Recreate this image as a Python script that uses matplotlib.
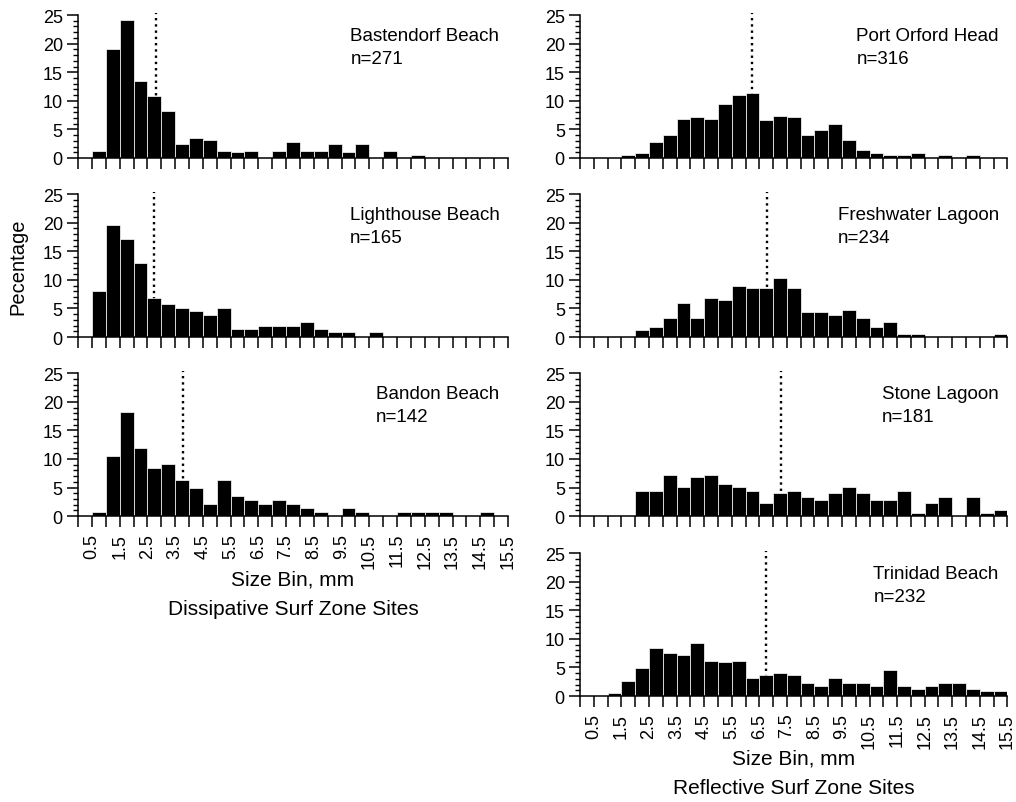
import numpy as np
import matplotlib.pyplot as plt

# Bin edges every 0.5 mm, 31 bins from 0 to 15.5 mm
BIN_WIDTH = 0.5
BIN_LABELS = ["0.5", "1.5", "2.5", "3.5", "4.5", "5.5", "6.5", "7.5",
              "8.5", "9.5", "10.5", "11.5", "12.5", "13.5", "14.5", "15.5"]

# Dissipative sites (left column)
bastendorf = [0, 1.3, 19.0, 24.1, 13.5, 10.9, 8.3, 2.4, 3.5, 3.1, 1.3, 1.0, 1.3, 0, 1.3, 2.8,
              1.3, 1.3, 2.4, 1.0, 2.4, 0, 1.3, 0, 0.6, 0, 0, 0, 0, 0, 0]
lighthouse = [0, 8.1, 19.6, 17.2, 13.0, 6.9, 5.7, 5.0, 4.5, 3.8, 5.0, 1.4, 1.4, 2.0, 2.0, 2.0,
              2.6, 1.4, 0.8, 0.8, 0, 0.8, 0, 0, 0, 0, 0, 0, 0, 0, 0]
bandon = [0, 0.7, 10.6, 18.3, 12.0, 8.5, 9.2, 6.3, 4.9, 2.1, 6.3, 3.5, 2.8, 2.1, 2.8, 2.1,
          1.4, 0.7, 0, 1.4, 0.7, 0, 0, 0.7, 0.7, 0.7, 0.7, 0, 0, 0.7, 0]

# Reflective sites (right column)
port_orford = [0, 0, 0, 0.6, 0.9, 2.8, 4.1, 6.9, 7.2, 6.9, 9.5, 11.0, 11.4, 6.6, 7.4, 7.2,
               4.1, 4.9, 5.9, 3.2, 1.4, 0.9, 0.6, 0.6, 0.9, 0, 0.6, 0, 0.6, 0, 0]
freshwater = [0, 0, 0, 0, 1.3, 1.7, 3.4, 6.0, 3.4, 6.8, 6.4, 9.0, 8.5, 8.5, 10.3, 8.5,
              4.3, 4.3, 3.8, 4.7, 3.4, 1.7, 2.6, 0.5, 0.5, 0, 0, 0, 0, 0, 0.5]
stone = [0, 0, 0, 0, 4.4, 4.4, 7.2, 5.1, 6.8, 7.2, 5.6, 5.1, 4.4, 2.3, 4.0, 4.4,
         3.4, 2.8, 4.0, 5.1, 4.0, 2.8, 2.8, 4.4, 0.6, 2.3, 3.4, 0, 3.4, 0.6, 1.1]
trinidad = [0, 0, 0.5, 2.7, 4.9, 8.4, 7.5, 7.1, 9.3, 6.2, 5.9, 6.2, 3.1, 3.6, 4.1, 3.6,
            2.3, 1.8, 3.1, 2.3, 2.3, 1.8, 4.5, 1.8, 1.3, 1.8, 2.3, 2.3, 1.3, 0.9, 0.9]

left_sites = ["Bastendorf Beach", "Lighthouse Beach", "Bandon Beach"]
left_n = [271, 165, 142]
left_median = [2.8, 2.75, 3.8]
left_pct = [bastendorf, lighthouse, bandon]

right_sites = ["Port Orford Head", "Freshwater Lagoon", "Stone Lagoon", "Trinidad Beach"]
right_n = [316, 234, 181, 232]
right_median = [6.22, 6.77, 7.27, 6.73]
right_pct = [port_orford, freshwater, stone, trinidad]

plt.rcParams['font.family'] = ['Liberation Sans', 'DejaVu Sans']


def draw_panel(ax, pct, name, n, median, show_labels):
    """Draws one size histogram with its median line"""
    edges = np.arange(len(pct)) * BIN_WIDTH
    ax.plot([median, median], [0, 25.3], linestyle=':', color='black', lw=1.7,
            zorder=0.5, clip_on=False)
    ax.bar(edges, pct, width=BIN_WIDTH, align='edge', color='black',
           edgecolor='white', linewidth=0.5, zorder=1)
    ax.set_xlim(0, len(pct) * BIN_WIDTH)
    ax.set_ylim(0, 25)
    for side in ['top', 'right']:
        ax.spines[side].set_visible(False)
    for side in ['left', 'bottom']:
        ax.spines[side].set_linewidth(1.1)

    ticks = np.arange(0, len(pct) * BIN_WIDTH + 0.01, BIN_WIDTH)
    ax.set_xticks(ticks)
    if show_labels:
        labels = []
        for t in ticks:
            s = f"{t:.1f}"
            labels.append(s if s in BIN_LABELS else "")
        ax.set_xticklabels(labels, rotation=90, fontsize=13)
    else:
        ax.set_xticklabels([])
    ax.tick_params(axis='x', direction='out', length=8, width=1.1, pad=4)

    ax.set_yticks([0, 5, 10, 15, 20, 25])
    ax.set_yticks(np.arange(0, 26, 1), minor=True)
    ax.tick_params(axis='y', which='major', direction='out', length=8, width=1.1,
                   pad=3, labelsize=13)
    ax.tick_params(axis='y', which='minor', direction='out', length=3.5, width=1.0)

    ax.text(0.98, 0.915, f"{name}\nn={n}", transform=ax.transAxes, ha='right',
            va='top', multialignment='left', fontsize=13.5, linespacing=1.45)


def main():
    fig = plt.figure(figsize=(10.16, 8.03), dpi=100)
    height = 0.178
    row_bottoms = [0.802, 0.579, 0.356, 0.132]

    left_axes = []
    for i in range(3):
        ax = fig.add_axes([0.0768, row_bottoms[i], 0.4232, height])
        draw_panel(ax, left_pct[i], left_sites[i], left_n[i], left_median[i], i == 2)
        left_axes.append(ax)

    right_axes = []
    for i in range(4):
        ax = fig.add_axes([0.571, row_bottoms[i], 0.4205, height])
        draw_panel(ax, right_pct[i], right_sites[i], right_n[i], right_median[i], i == 3)
        right_axes.append(ax)

    left_axes[1].set_ylabel("Pecentage", fontsize=14.5)
    left_axes[1].yaxis.set_label_coords(-0.118, 0.5)
    left_axes[2].set_xlabel("Size Bin, mm\nDissipative Surf Zone Sites", fontsize=15,
                            linespacing=1.7)
    left_axes[2].xaxis.set_label_coords(0.5, -0.37)
    right_axes[3].set_xlabel("Size Bin, mm\nReflective Surf Zone Sites", fontsize=15,
                             linespacing=1.7)
    right_axes[3].xaxis.set_label_coords(0.5, -0.37)

    fig.savefig('out.png', dpi=100)


if __name__ == "__main__":
    main()
